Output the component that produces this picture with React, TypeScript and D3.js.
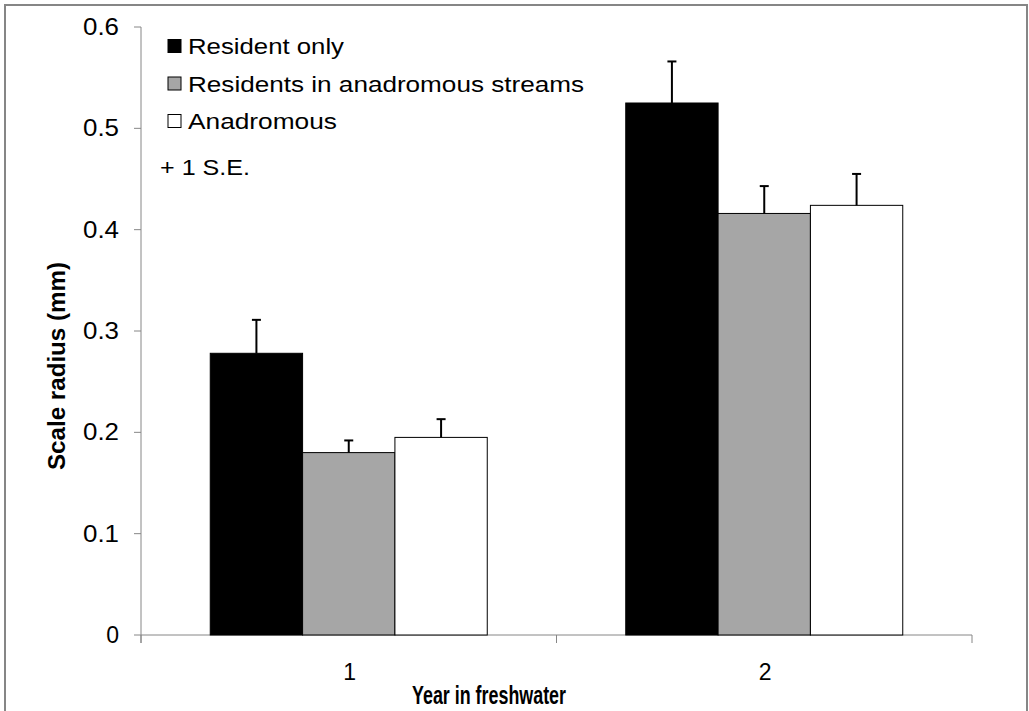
import React from "react";
import * as d3 from "d3";

// Year-in-freshwater categories and the three life-history groups
const categories = ["1", "2"];
const seriesNames = ["Resident only", "Residents in anadromous streams", "Anadromous"];
const residentOnly = [0.278, 0.525];
const residentsInAnadromous = [0.18, 0.416];
const anadromous = [0.195, 0.424];
const residentOnlySE = [0.033, 0.041];
const residentsInAnadromousSE = [0.012, 0.027];
const anadromousSE = [0.018, 0.031];
const yTicks = [0, 0.1, 0.2, 0.3, 0.4, 0.5, 0.6];

const seriesValues = [residentOnly, residentsInAnadromous, anadromous];
const seriesSE = [residentOnlySE, residentsInAnadromousSE, anadromousSE];
const seriesFill = ["#000000", "#a6a6a6", "#ffffff"];
const legendWidths = [156, 396, 149];

const W = 1029;
const H = 711;
const FONT = "'Liberation Sans', Arial, Helvetica, sans-serif";
const AXIS = "#868686";

export default function App() {
  const left = 141;
  const right = 972;
  const y = d3.scaleLinear().domain([0, 0.6]).range([635, 27]);
  const x = d3.scaleBand<string>().domain(categories).range([left, right]).padding(0);
  const groupWidth = (x.bandwidth() * 3) / 4.5;
  const inner = d3
    .scaleBand<number>()
    .domain(d3.range(seriesNames.length))
    .range([0, groupWidth]);

  const y0 = y(0);

  return (
    <svg
      width={W}
      height={H}
      style={{ position: "absolute", left: 0, top: 0, background: "#fff" }}
      fontFamily={FONT}
    >
      <rect x={0} y={0} width={W} height={H} fill="#fff" />
      {/* chart frame */}
      <rect x={5} y={5} width={1022} height={730} fill="none" stroke={AXIS} strokeWidth={2} />

      {/* y axis */}
      <line x1={left} x2={left} y1={y(0.6)} y2={y0 + 8} stroke={AXIS} strokeWidth={1} />
      {yTicks.map((t) => (
        <g key={t}>
          <line x1={left - 7} x2={left} y1={y(t)} y2={y(t)} stroke={AXIS} strokeWidth={1} />
          <text
            x={119}
            y={y(t) + 8}
            textAnchor="end"
            fontSize={23}
            fill="#000"
            textLength={t === 0 ? undefined : 36}
            lengthAdjust="spacingAndGlyphs"
          >
            {t === 0 ? "0" : d3.format(".1f")(t)}
          </text>
        </g>
      ))}

      {/* x axis */}
      <line x1={left} x2={right} y1={y0} y2={y0} stroke={AXIS} strokeWidth={1} />
      {[left, ...categories.map((c) => (x(c) as number) + x.bandwidth())].map((px, i) => (
        <line key={i} x1={px} x2={px} y1={y0} y2={y0 + 8} stroke={AXIS} strokeWidth={1} />
      ))}
      {categories.map((c) => (
        <text
          key={c}
          x={(x(c) as number) + x.bandwidth() / 2 + 1}
          y={680}
          textAnchor="middle"
          fontSize={23}
          fill="#000"
        >
          {c}
        </text>
      ))}

      {/* bars */}
      {categories.map((c, ci) => {
        const gx = (x(c) as number) + (x.bandwidth() - groupWidth) / 2;
        return (
          <g key={c}>
            {seriesValues.map((vals, si) => (
              <rect
                key={si}
                x={gx + (inner(si) as number)}
                y={y(vals[ci])}
                width={inner.bandwidth()}
                height={y0 - y(vals[ci])}
                fill={seriesFill[si]}
                stroke="#000"
                strokeWidth={1}
              />
            ))}
            {seriesValues.map((vals, si) => {
              const cx = gx + (inner(si) as number) + inner.bandwidth() / 2;
              const top = y(vals[ci] + seriesSE[si][ci]);
              return (
                <g key={"e" + si} stroke="#000" strokeWidth={2}>
                  <line x1={cx} x2={cx} y1={y(vals[ci])} y2={top} />
                  <line x1={cx - 4.5} x2={cx + 4.5} y1={top} y2={top} />
                </g>
              );
            })}
          </g>
        );
      })}

      {/* legend */}
      {seriesNames.map((name, i) => (
        <g key={name} transform={`translate(0, ${i * 37.5})`}>
          <rect
            x={168}
            y={39.5}
            width={13}
            height={13}
            fill={seriesFill[i]}
            stroke="#000"
            strokeWidth={1}
          />
          <text
            x={188}
            y={54}
            fontSize={22}
            fill="#000"
            textLength={legendWidths[i]}
            lengthAdjust="spacingAndGlyphs"
          >
            {name}
          </text>
        </g>
      ))}
      <text x={160} y={175} fontSize={22} fill="#000" textLength={90} lengthAdjust="spacingAndGlyphs">
        + 1 S.E.
      </text>

      {/* axis titles */}
      <text
        transform={`translate(65, 366) rotate(-90)`}
        textAnchor="middle"
        fontSize={23}
        fontWeight="bold"
        fill="#000"
        textLength={208}
        lengthAdjust="spacingAndGlyphs"
      >
        Scale radius (mm)
      </text>
      <text
        x={489}
        y={704}
        textAnchor="middle"
        fontSize={25}
        fontWeight="bold"
        fill="#000"
        textLength={154}
        lengthAdjust="spacingAndGlyphs"
      >
        Year in freshwater
      </text>
    </svg>
  );
}
